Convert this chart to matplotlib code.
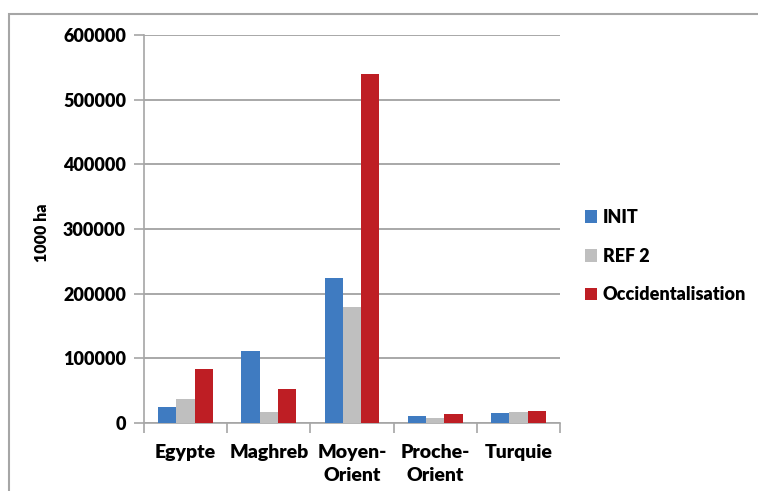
import matplotlib.pyplot as plt
import matplotlib.patches as mpatches
import numpy as np

plt.rcParams['font.family'] = ['Lato', 'DejaVu Sans']

regions = ['Egypte', 'Maghreb', 'Moyen-\nOrient', 'Proche-\nOrient', 'Turquie']
init = [24500, 112000, 224500, 10500, 15000]
ref2 = [37000, 17000, 179000, 7500, 16500]
occid = [83000, 52500, 540000, 13500, 18500]

colors = ['#3f7bc1', '#bfbfbf', '#be1e24']
labels = ['INIT', 'REF 2', 'Occidentalisation']

fig = plt.figure(figsize=(7.58, 4.91), dpi=100)
ax = fig.add_axes([144 / 758, 1 - 423 / 491, 416 / 758, 388 / 491])

# outer chart frame
fig.patches.append(mpatches.Rectangle((8.5 / 758, -0.05), 1.0, 1 - 14 / 491 + 0.05,
                                      transform=fig.transFigure, fill=False,
                                      edgecolor='#a6a6a6', linewidth=1.5))

x = np.arange(len(regions))
width = 0.22
for i, (vals, c, lab) in enumerate(zip([init, ref2, occid], colors, labels)):
    ax.bar(x + (i - 1) * width, vals, width, color=c, label=lab, zorder=3)

ax.set_xlim(-0.5, len(regions) - 0.5)
ax.set_ylim(0, 600000)
ax.set_yticks(np.arange(0, 600001, 100000))
ax.set_yticklabels([str(v) for v in range(0, 600001, 100000)],
                   fontsize=13, fontweight='heavy')
ax.set_xticks(x)
ax.set_xticklabels(regions, fontsize=14, fontweight='heavy', linespacing=1.45)
ax.tick_params(axis='x', length=0, pad=15)
ax.set_xticks(np.arange(-0.5, len(regions) + 0.5, 1), minor=True)
ax.tick_params(axis='x', which='minor', length=7, color='#a6a6a6', width=1.2)
ax.tick_params(axis='y', length=7, color='#a6a6a6', width=1.2, pad=6)

ax.grid(axis='y', color='#999999', linewidth=1.2, zorder=0)
for s in ['top', 'right']:
    ax.spines[s].set_visible(False)
for s in ['left', 'bottom']:
    ax.spines[s].set_color('#a6a6a6')
    ax.spines[s].set_linewidth(1.2)

ax.set_ylabel('1000 ha', fontsize=11.5, fontweight='heavy')
ax.yaxis.set_label_coords(-0.225, 0.49)

ax.legend(loc='center left', bbox_to_anchor=(1.02, 0.43), frameon=False,
          prop={'size': 13, 'weight': 'heavy'}, handlelength=0.7,
          handleheight=0.7, handletextpad=0.3, labelspacing=1.2)

fig.savefig('out.png', dpi=100)
